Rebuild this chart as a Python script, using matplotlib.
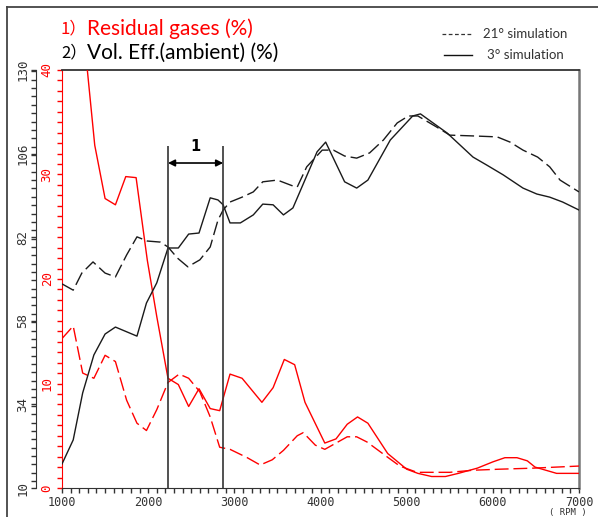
import matplotlib.pyplot as plt
from matplotlib.lines import Line2D
from matplotlib.ticker import MultipleLocator

# residual gases (%), red axis
res3_rpm = [1270, 1380, 1500, 1620, 1740, 1860, 1990, 2100, 2230, 2350, 2470, 2590, 2720, 2830,
            2950, 3090, 3320, 3450, 3580, 3700, 3820, 4050, 4180, 4310, 4430, 4550, 4780, 5000,
            5130, 5290, 5450, 5600, 5820, 6000, 6140, 6280, 6400, 6490, 6740, 7000]
res3 = [42.0, 32.8, 27.7, 27.1, 29.8, 29.7, 21.8, 16.4, 10.5, 9.9, 7.8, 9.5, 7.6, 7.4,
        10.9, 10.5, 8.2, 9.6, 12.3, 11.8, 8.2, 4.3, 4.7, 6.1, 6.8, 6.2, 3.3, 1.8,
        1.4, 1.1, 1.1, 1.4, 1.9, 2.5, 2.9, 2.9, 2.6, 2.0, 1.4, 1.4]

res21_rpm = [1000, 1130, 1240, 1370, 1500, 1620, 1750, 1870, 1980, 2100, 2230, 2360, 2470, 2600,
             2720, 2830, 2950, 3150, 3300, 3440, 3570, 3730, 3800, 3940, 4050, 4180, 4310, 4420,
             4540, 4770, 4920, 5120, 5500, 5770, 6080, 6470, 7000]
res21 = [14.3, 15.5, 11.0, 10.5, 12.7, 12.1, 8.4, 6.2, 5.5, 7.5, 10.1, 10.9, 10.5, 9.2,
         6.8, 3.9, 3.7, 2.9, 2.2, 2.7, 3.6, 5.0, 5.3, 4.1, 3.7, 4.3, 4.9, 4.9,
         4.4, 3.0, 2.1, 1.5, 1.5, 1.7, 1.8, 1.9, 2.1]

# volumetric efficiency (%), black axis
ve3_rpm = [1000, 1130, 1240, 1370, 1500, 1620, 1870, 1980, 2100, 2230, 2350, 2470, 2590, 2720,
           2810, 2870, 2950, 3070, 3220, 3330, 3450, 3570, 3680, 3960, 4060, 4280, 4420, 4550,
           4810, 5070, 5160, 5470, 5770, 5930, 6120, 6350, 6510, 6660, 6810, 7000]
ve3 = [16.9, 23.8, 37.3, 48.2, 54.2, 56.2, 53.6, 63.1, 68.9, 78.9, 78.9, 82.9, 83.2, 93.3,
       92.7, 91.3, 86.1, 86.1, 88.4, 91.5, 91.3, 88.4, 90.4, 106.5, 109.3, 97.9, 96.1, 98.4,
       109.9, 116.8, 117.4, 111.9, 105.0, 102.7, 99.9, 96.1, 94.4, 93.5, 92.1, 89.8]

ve21_rpm = [1000, 1130, 1230, 1360, 1500, 1620, 1750, 1870, 1990, 2140, 2230, 2340, 2460, 2600,
            2720, 2810, 2870, 2950, 3090, 3220, 3330, 3500, 3680, 3730, 3840, 4020, 4150, 4280,
            4420, 4570, 4730, 4890, 5020, 5130, 5350, 5500, 5740, 6050, 6200, 6350, 6520, 6660,
            6780, 7000]
ve21 = [68.6, 66.8, 71.7, 74.9, 71.7, 70.6, 76.9, 82.1, 80.9, 80.6, 79.2, 76.0, 73.5, 75.5,
        79.2, 86.9, 89.8, 92.1, 93.5, 95.0, 97.9, 98.4, 96.7, 96.4, 102.2, 107.0, 107.0, 105.3,
        104.7, 106.2, 109.9, 114.8, 116.8, 116.8, 113.6, 111.3, 111.1, 110.8, 109.3, 107.0, 105.0, 102.2,
        98.4, 95.0]

x_ticks = [1000, 2000, 3000, 4000, 5000, 6000, 7000]
red_ticks = [0, 10, 20, 30, 40]
black_ticks = [10, 34, 58, 82, 106, 130]
window = [2230, 2870]  # range marked "1"

W, H = 598, 517
fig = plt.figure(figsize=(W / 100, H / 100), dpi=100)
ax = fig.add_axes([62 / W, 1 - 488 / H, (579 - 62) / W, (488 - 70) / H])
axb = ax.twinx()

dash = (10, 3.5)
ax.plot(res3_rpm, res3, color='#ff0000', lw=1.0, zorder=3)
ax.plot(res21_rpm, res21, color='#ff0000', lw=1.0, dashes=dash, zorder=3)
axb.plot(ve3_rpm, ve3, color='#1a1a1a', lw=1.0)
axb.plot(ve21_rpm, ve21, color='#1a1a1a', lw=1.0, dashes=dash)

ax.set_xlim(1000, 7000)
ax.set_ylim(0, 40)
axb.set_ylim(10, 130)

# x axis
ax.set_xticks(x_ticks, [str(v) for v in x_ticks], family='DejaVu Sans Mono', fontsize=8.5, color='#333333')
ax.xaxis.set_minor_locator(MultipleLocator(100))
ax.tick_params(axis='x', which='both', direction='out', length=3.5, width=1, color='#333333', pad=2.5)

# red axis
ax.set_yticks(red_ticks, [str(v) for v in red_ticks], rotation=90, va='center',
              family='DejaVu Sans Mono', fontsize=9, color='#ff0000')
ax.yaxis.set_minor_locator(MultipleLocator(1))
ax.tick_params(axis='y', which='both', direction='out', length=3.5, width=1, color='#ff0000', pad=2.5)

# black axis moved to the far left
axb.spines['right'].set_visible(False)
axb.spines['top'].set_visible(False)
axb.spines['bottom'].set_visible(False)
axb.spines['left'].set_visible(True)
axb.spines['left'].set_position(('outward', 26 * 0.72))
axb.spines['left'].set_color('#333333')
axb.yaxis.set_ticks_position('left')
axb.set_yticks(black_ticks, [str(v) for v in black_ticks], rotation=90, va='center',
               family='DejaVu Sans Mono', fontsize=9, color='#333333')
axb.yaxis.set_minor_locator(MultipleLocator(2.4))
axb.tick_params(axis='y', which='both', direction='out', length=3.5, width=1, color='#333333', pad=1.5)

ax.spines['left'].set_color('#ff0000')
ax.spines['top'].set_color('#333333')
ax.spines['top'].set_linewidth(1.3)
ax.spines['right'].set_color('#777777')
ax.spines['right'].set_linewidth(1.8)
ax.spines['bottom'].set_color('#333333')

# marked window
axb.vlines(window, 10, 108.2, color='#333333', lw=1.2)
axb.annotate('', xy=(window[0], 103.3), xytext=(window[1], 103.3),
             arrowprops=dict(arrowstyle='<|-|>', color='black', lw=1.2,
                             shrinkA=0, shrinkB=0, mutation_scale=10))
axb.text(sum(window) / 2, 108, '1', ha='center', va='center', fontsize=10.5, fontweight='bold')

# titles
fig.text(61 / W, 1 - 29 / H, '1）', color='#ff0000', fontsize=12, fontweight='light',
         family=['Noto Sans CJK SC', 'DejaVu Sans'], va='center')
fig.text(87 / W, 1 - 29 / H, 'Residual gases (%)', color='#ff0000', fontsize=15,
         family='Lato', va='center')
fig.text(61 / W, 1 - 53 / H, '2）', color='black', fontsize=12, fontweight='light',
         family=['Noto Sans CJK SC', 'DejaVu Sans'], va='center')
fig.text(87 / W, 1 - 53 / H, 'Vol. Eff.(ambient) (%)', color='black', fontsize=15,
         family='Lato', va='center')

# legend
fig.add_artist(Line2D([442 / W, 472 / W], [1 - 34 / H, 1 - 34 / H], color='#333333', lw=0.9,
                      dashes=(3, 2)))
fig.add_artist(Line2D([444 / W, 472 / W], [1 - 55 / H, 1 - 55 / H], color='#111111', lw=1.0))
fig.text(483 / W, 1 - 34 / H, '21° simulation', fontsize=9.5, family='Lato', va='center', color='#333333')
fig.text(487 / W, 1 - 55 / H, '3° simulation', fontsize=9.5, family='Lato', va='center', color='#333333')

fig.text(568 / W, 1 - 513 / H, '( RPM )', fontsize=6.5, family='DejaVu Sans Mono', ha='center',
         va='center', color='#333333')

# outer frame
fig.add_artist(Line2D([7 / W, 7 / W], [0, 1 - 7 / H], color='#444444', lw=1.3))
fig.add_artist(Line2D([7 / W, 1], [1 - 7 / H, 1 - 7 / H], color='#444444', lw=1.3))

fig.savefig('out.png', dpi=100)
